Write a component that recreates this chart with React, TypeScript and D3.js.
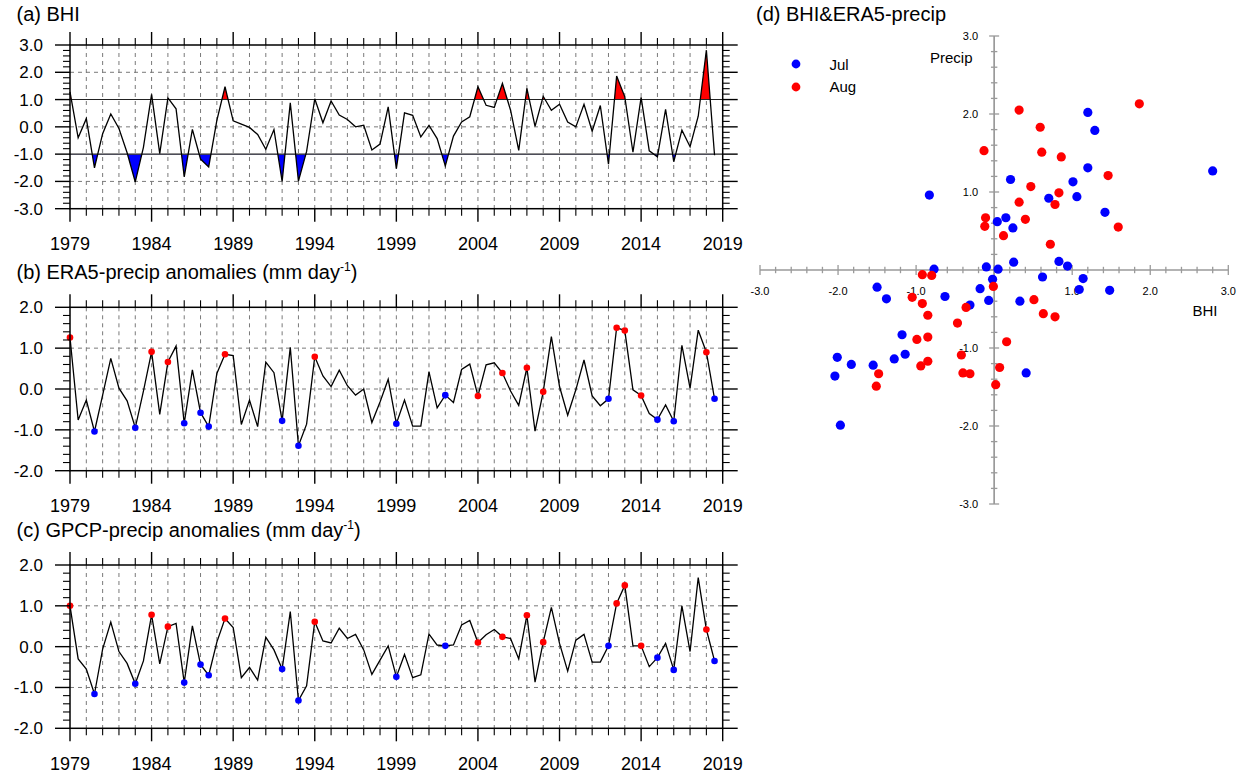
import React from 'react';
import * as d3 from 'd3';

const FONT = "'Liberation Sans', Arial, Helvetica, sans-serif";

// Year axis labels shared by the three time-series panels
const yearLabels = [1979, 1984, 1989, 1994, 1999, 2004, 2009, 2014, 2019];

// Jul/Aug pairs 1979-2018 (Jul, Aug, Jul, Aug, ...)
const bhi = [
  1.28, -0.40, 0.30, -1.50, -0.25, 0.47, -0.06, -0.95, -2.02, -0.75,
  1.19, -0.98, 1.06, 0.66, -1.83, -0.09, -1.18, -1.47, 0.24, 1.47,
  0.22, 0.10, -0.02, -0.28, -0.82, -0.10, -2.00, 0.88, -1.99, -0.90,
  1.03, 0.15, 0.95, 0.43, 0.27, 0.00, 0.06, -0.85, -0.63, 0.73,
  -1.53, 0.51, 0.42, -0.37, 0.05, -0.43, -1.43, -0.34, 0.18, 0.37,
  1.47, 0.79, 0.71, 1.59, 0.61, -0.86, 1.41, 0.02, 1.12, 0.61,
  0.83, 0.18, 0.00, 0.83, -0.16, 0.78, -1.37, 1.86, 1.10, -0.93,
  1.08, -0.88, -1.10, 0.64, -1.28, -0.12, -0.73, 0.39, 2.81, -1.04,
];

const era5 = [
  1.26, -0.76, -0.27, -1.04, -0.15, 0.75, 0.02, -0.29, -0.95, -0.05,
  0.91, -0.62, 0.66, 1.05, -0.84, 0.47, -0.58, -0.92, 0.38, 0.85,
  0.82, -0.87, -0.27, -0.92, 0.66, 0.40, -0.78, 1.02, -1.39, -0.86,
  0.79, 0.32, 0.06, 0.46, 0.08, -0.15, 0.00, -0.82, -0.32, 0.24,
  -0.85, -0.27, -0.91, -0.91, 0.42, -0.46, -0.15, -0.33, 0.48, 0.61,
  -0.17, 0.59, 0.64, 0.39, -0.05, -0.40, 0.52, -1.03, -0.07, 1.28,
  0.06, -0.64, -0.02, 0.71, -0.17, -0.41, -0.24, 1.50, 1.43, -0.02,
  -0.16, -0.60, -0.75, -0.39, -0.79, 1.07, 0.02, 1.44, 0.90, -0.24,
];

const gpcp = [
  1.00, -0.30, -0.55, -1.16, -0.06, 0.60, -0.12, -0.41, -0.91, -0.35,
  0.78, -0.42, 0.49, 0.57, -0.88, 0.51, -0.44, -0.70, 0.11, 0.69,
  0.47, -0.76, -0.51, -0.82, 0.23, -0.08, -0.55, 0.86, -1.32, -0.96,
  0.61, 0.14, 0.09, 0.45, 0.20, 0.30, -0.08, -0.68, -0.33, 0.02,
  -0.74, -0.19, -0.76, -0.69, 0.31, 0.04, 0.02, 0.04, 0.53, 0.64,
  0.10, 0.29, 0.42, 0.24, 0.20, -0.30, 0.77, -0.87, 0.11, 0.96,
  0.08, -0.60, 0.16, 0.30, -0.38, -0.38, 0.02, 1.06, 1.50, 0.02,
  0.02, -0.49, -0.27, 0.08, -0.57, 1.00, -0.12, 1.69, 0.42, -0.35,
];

// Scatter (d): standardized BHI vs standardized ERA5 precipitation
const julBhi = [
  -0.83, 0.21, 0.04, 0.15, 0.24, 0.70, 1.01, 1.06, 1.20, 1.29,
  1.20, 1.42, 2.80, -0.77, -0.10, 0.05, 0.25, 0.83, 0.94, 0.62,
  1.14, 1.09, 1.48, -0.02, -0.18, -0.07, 0.33, -0.63, -0.31, -1.50,
  -1.38, -1.18, -1.14, -1.28, -2.01, -1.83, -1.55, -2.04, -1.97, 0.41,
];
const julPrecip = [
  0.96, 1.16, 0.62, 0.67, 0.54, 0.92, 1.13, 0.94, 2.02, 1.79,
  1.31, 0.74, 1.27, 0.01, 0.04, 0.01, 0.10, 0.11, 0.05, -0.09,
  -0.11, -0.25, -0.26, -0.12, -0.24, -0.39, -0.40, -0.34, -0.45, -0.22,
  -0.37, -0.83, -1.08, -1.14, -1.12, -1.21, -1.22, -1.36, -1.99, -1.32,
];
const augBhi = [
  -0.13, 0.32, 0.59, 0.61, 0.86, 1.86, 1.46, 0.47, 0.83, 0.32,
  0.78, 0.40, -0.11, -0.12, 0.12, 0.72, 1.59, -0.92, -0.80, -0.01,
  -1.05, -0.92, -0.85, -0.36, -0.47, 0.51, 0.63, 0.78, -0.99, -0.85,
  0.16, -0.42, -0.94, -0.85, -0.40, -0.31, 0.07, 0.02, -1.48, -1.51,
];
const augPrecip = [
  1.53, 2.05, 1.83, 1.51, 1.45, 2.13, 1.21, 1.07, 0.99, 0.87,
  0.84, 0.65, 0.67, 0.56, 0.44, 0.33, 0.55, -0.06, -0.07, -0.21,
  -0.35, -0.43, -0.58, -0.48, -0.68, -0.38, -0.56, -0.60, -0.89, -0.86,
  -0.92, -1.09, -1.23, -1.17, -1.32, -1.33, -1.25, -1.47, -1.33, -1.49,
];

const scatterTickLabels = [-3, -2, -1, 1, 2, 3];

const PLOT_LEFT = 70;
const PLOT_RIGHT = 722.7;
const x = d3.scaleLinear().domain([1979, 2019]).range([PLOT_LEFT, PLOT_RIGHT]);
const timeOf = (i: number) => 1979 + i * 0.5;

type PanelProps = {
  id: string;
  title: React.ReactNode;
  titleY: number;
  values: number[];
  top: number;
  bottom: number;
  yMin: number;
  yMax: number;
  solidRefs: number[];
  dashedRefs: number[];
  shade?: boolean;
  markers?: boolean;
};

function TimePanel(p: PanelProps) {
  const y = d3.scaleLinear().domain([p.yMin, p.yMax]).range([p.bottom, p.top]);
  const pts = p.values.map((v, i) => [x(timeOf(i)), y(v)] as [number, number]);
  const linePath = d3.line()(pts) || '';
  const years = d3.range(1979, 2020);
  const gridYears = d3.range(1980, 2019);
  const majorY = d3.range(p.yMin, p.yMax + 0.001, 1);
  const minorY = d3.range(0, Math.round((p.yMax - p.yMin) / 0.2) + 1).map((k) => p.yMin + k * 0.2);

  const aboveArea =
    d3
      .area<number>()
      .x((_, i) => x(timeOf(i)))
      .y0(y(1))
      .y1((v) => y(v))(p.values) || '';
  const belowArea =
    d3
      .area<number>()
      .x((_, i) => x(timeOf(i)))
      .y0(y(-1))
      .y1((v) => y(v))(p.values) || '';

  const tick = '#000';
  return (
    <g>
      <defs>
        <clipPath id={`${p.id}-above`}>
          <rect x={PLOT_LEFT} y={p.top} width={PLOT_RIGHT - PLOT_LEFT} height={y(1) - p.top} />
        </clipPath>
        <clipPath id={`${p.id}-below`}>
          <rect x={PLOT_LEFT} y={y(-1)} width={PLOT_RIGHT - PLOT_LEFT} height={p.bottom - y(-1)} />
        </clipPath>
      </defs>
      <text x={16.5} y={p.titleY} fontSize={20} fontFamily={FONT} fill="#000">
        {p.title}
      </text>

      {/* dashed grid */}
      {gridYears.map((yr) => (
        <line key={`gv${yr}`} x1={x(yr)} x2={x(yr)} y1={p.top} y2={p.bottom}
          stroke="#7a7a7a" strokeWidth={1} strokeDasharray="4,4" />
      ))}
      {p.dashedRefs.map((v) => (
        <line key={`gh${v}`} x1={PLOT_LEFT} x2={PLOT_RIGHT} y1={y(v)} y2={y(v)}
          stroke="#7a7a7a" strokeWidth={1} strokeDasharray="4,4" />
      ))}

      {p.shade && (
        <g>
          <path d={aboveArea} fill="#ff0000" stroke="none" clipPath={`url(#${p.id}-above)`} />
          <path d={belowArea} fill="#0000ff" stroke="none" clipPath={`url(#${p.id}-below)`} />
        </g>
      )}

      {p.solidRefs.map((v) => (
        <line key={`sr${v}`} x1={PLOT_LEFT} x2={PLOT_RIGHT} y1={y(v)} y2={y(v)}
          stroke="#222" strokeWidth={1.1} />
      ))}

      <path d={linePath} fill="none" stroke="#000" strokeWidth={1.3} strokeLinejoin="miter" />

      {p.markers &&
        p.values.map((v, i) => {
          const b = bhi[i];
          if (b > 1 || b < -1) {
            return (
              <circle key={`m${i}`} cx={x(timeOf(i))} cy={y(v)} r={3.3}
                fill={b > 1 ? '#ff0000' : '#0000ff'} />
            );
          }
          return null;
        })}

      {/* frame */}
      <rect x={PLOT_LEFT} y={p.top} width={PLOT_RIGHT - PLOT_LEFT} height={p.bottom - p.top}
        fill="none" stroke="#000" strokeWidth={1.5} />

      {/* x ticks, top and bottom, pointing outward */}
      {years.map((yr) => {
        const major = (yr - 1979) % 5 === 0;
        const len = major ? 13 : 7;
        return (
          <g key={`xt${yr}`} stroke={tick} strokeWidth={major ? 1.4 : 1.1}>
            <line x1={x(yr)} x2={x(yr)} y1={p.bottom} y2={p.bottom + len} />
            <line x1={x(yr)} x2={x(yr)} y1={p.top} y2={p.top - len} />
          </g>
        );
      })}
      {/* y ticks, left and right */}
      {minorY.map((v, k) => {
        const major = k % 5 === 0;
        const len = major ? 15 : 7;
        return (
          <g key={`yt${k}`} stroke={tick} strokeWidth={major ? 1.4 : 1.1}>
            <line x1={PLOT_LEFT - len} x2={PLOT_LEFT} y1={y(v)} y2={y(v)} />
            <line x1={PLOT_RIGHT} x2={PLOT_RIGHT + len} y1={y(v)} y2={y(v)} />
          </g>
        );
      })}

      {majorY.map((v) => (
        <text key={`yl${v}`} x={43} y={y(v) + 6} fontSize={17} fontFamily={FONT}
          textAnchor="end" fill="#000">
          {v.toFixed(1)}
        </text>
      ))}
      {yearLabels.map((yr) => (
        <text key={`xl${yr}`} x={x(yr)} y={p.bottom + 41.3} fontSize={18} fontFamily={FONT}
          textAnchor="middle" fill="#000">
          {yr}
        </text>
      ))}
    </g>
  );
}

function ScatterPanel() {
  const sx = d3.scaleLinear().domain([-3, 3]).range([760, 1228.3]);
  const sy = d3.scaleLinear().domain([-3, 3]).range([504, 36]);
  const x0 = sx(0);
  const y0 = sy(0);
  const axis = '#9a9a9a';
  const ticks = d3.range(0, 31).map((k) => -3 + k * 0.2);
  return (
    <g>
      <text x={756} y={21} fontSize={20} fontFamily={FONT} fill="#000">
        (d) BHI&amp;ERA5-precip
      </text>

      <line x1={sx(-3)} x2={sx(3)} y1={y0} y2={y0} stroke={axis} strokeWidth={1.7} />
      <line x1={x0} x2={x0} y1={sy(3)} y2={sy(-3)} stroke={axis} strokeWidth={1.7} />
      {ticks.map((v, k) => {
        const major = k % 5 === 0;
        const h = major ? 5 : 3.2;
        return (
          <g key={`st${k}`} stroke={axis} strokeWidth={1.3}>
            <line x1={sx(v)} x2={sx(v)} y1={y0 - h} y2={y0 + h} />
            <line x1={x0 - h} x2={x0 + h} y1={sy(v)} y2={sy(v)} />
          </g>
        );
      })}

      {scatterTickLabels.map((v) => (
        <g key={`sl${v}`} fontSize={11} fontFamily={FONT} fill="#000">
          <text x={sx(v)} y={y0 + 24.5} textAnchor="middle">{v.toFixed(1)}</text>
          <text x={x0 - 16} y={sy(v) + 4} textAnchor="end">{v.toFixed(1)}</text>
        </g>
      ))}

      <text x={972.5} y={62.5} fontSize={15} fontFamily={FONT} textAnchor="end" fill="#000">Precip</text>
      <text x={1192.5} y={315.7} fontSize={15} fontFamily={FONT} fill="#000">BHI</text>

      {julBhi.map((v, i) => (
        <circle key={`j${i}`} cx={sx(v)} cy={sy(julPrecip[i])} r={4.6} fill="#0000ff" />
      ))}
      {augBhi.map((v, i) => (
        <circle key={`a${i}`} cx={sx(v)} cy={sy(augPrecip[i])} r={4.6} fill="#ff0000" />
      ))}

      {/* legend */}
      <circle cx={796} cy={64} r={4.4} fill="#0000ff" />
      <text x={829.5} y={70.3} fontSize={15} fontFamily={FONT} fill="#000">Jul</text>
      <circle cx={796} cy={87} r={4.4} fill="#ff0000" />
      <text x={829.5} y={92.3} fontSize={15} fontFamily={FONT} fill="#000">Aug</text>
    </g>
  );
}

function Unit() {
  return (
    <>
      {' (mm day'}
      <tspan fontSize={12} dy={-8}>-1</tspan>
      <tspan dy={8}>)</tspan>
    </>
  );
}

export default function App() {
  return (
    <svg width={1245} height={776} viewBox="0 0 1245 776"
      style={{ position: 'absolute', left: 0, top: 0, display: 'block', background: '#fff' }}>
      <rect width={1245} height={776} fill="#fff" />
      <TimePanel id="pa" title="(a) BHI" titleY={21} values={bhi} top={45} bottom={208.7}
        yMin={-3} yMax={3} solidRefs={[1, -1]} dashedRefs={[2, 0, -2]} shade />
      <TimePanel id="pb" title={<>(b) ERA5-precip anomalies<Unit /></>} titleY={278.5} values={era5}
        top={307.3} bottom={470.7} yMin={-2} yMax={2} solidRefs={[]} dashedRefs={[1, 0, -1]} markers />
      <TimePanel id="pc" title={<>(c) GPCP-precip anomalies<Unit /></>} titleY={537} values={gpcp}
        top={565} bottom={728.3} yMin={-2} yMax={2} solidRefs={[]} dashedRefs={[1, 0, -1]} markers />
      <ScatterPanel />
    </svg>
  );
}
